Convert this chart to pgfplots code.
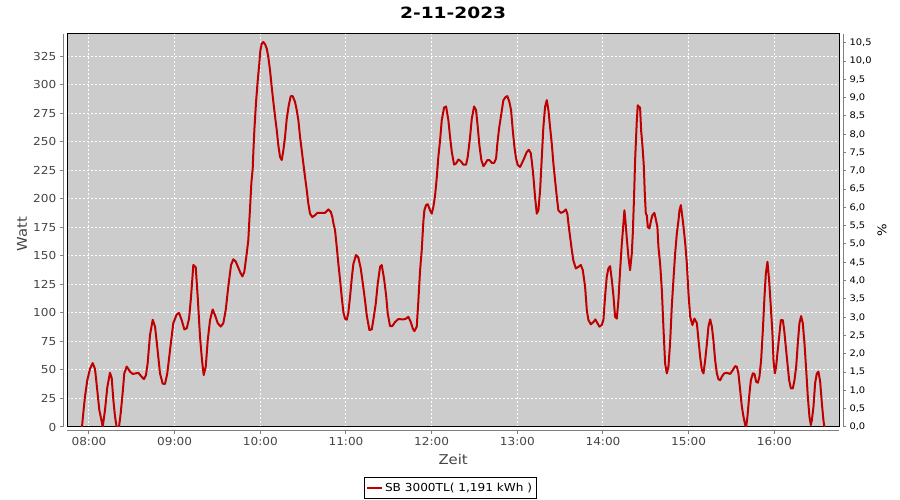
\documentclass[border=0pt]{standalone}
\usepackage{pgfplots}
\pgfplotsset{compat=1.18}
\usepackage{pgfplotstable}
\usepackage{fontspec}
\setmainfont{DejaVu Sans}
\newfontfamily\widefont[FakeStretch=1.1]{DejaVu Sans}
\newfontfamily\titlefont[FakeStretch=1.2]{DejaVu Sans}
\definecolor{plotbg}{RGB}{204,204,204}
\definecolor{serie}{RGB}{192,0,0}
\definecolor{ticktxt}{RGB}{68,68,68}
\definecolor{axgray}{RGB}{128,128,128}

\pgfplotstableread{
h w
7.918 0
7.933 12
7.953 26.5
7.980 41
8.012 51
8.043 56
8.070 51
8.097 32
8.120 15
8.148 5
8.160 0
8.187 15
8.214 35
8.245 47.5
8.265 43
8.284 24
8.304 9
8.323 0
8.350 0
8.370 12
8.393 30
8.412 47
8.440 53
8.479 48.5
8.510 46.5
8.576 47.5
8.615 44
8.642 42
8.665 45.5
8.685 56
8.712 80.6
8.744 94
8.771 88
8.797 70
8.829 47
8.860 38
8.887 37.7
8.914 47
8.946 67.5
8.984 91
9.024 98.7
9.051 100
9.082 93.7
9.113 85.6
9.141 86.5
9.168 95
9.191 114
9.218 142
9.246 140
9.269 114
9.296 79
9.319 58.7
9.339 45.5
9.363 53
9.386 76
9.413 93.7
9.444 103
9.471 98
9.503 91
9.538 88
9.568 91
9.596 102.5
9.626 123
9.658 142
9.685 147
9.713 145
9.763 136
9.790 132
9.813 136
9.841 152
9.860 164
9.868 176
9.880 192
9.895 213.5
9.911 226.6
9.918 240
9.930 260
9.950 285
9.970 304
9.988 318.6
10.000 330
10.016 336
10.035 337.5
10.055 335.5
10.075 331.7
10.093 324.4
10.113 312.7
10.133 298
10.152 285
10.172 272
10.192 260
10.210 247
10.230 236.8
10.250 234
10.269 242.7
10.288 254
10.308 270
10.332 282
10.355 290
10.378 290
10.405 285
10.425 277.7
10.444 269
10.464 254
10.483 242.7
10.502 231
10.522 219
10.542 207.6
10.560 196
10.580 187
10.607 184
10.639 185.7
10.666 187.7
10.755 187.7
10.794 190.7
10.822 188.6
10.841 184
10.852 179
10.872 172.6
10.892 158
10.911 143
10.931 128.8
10.950 114
10.969 101
10.989 95
11.009 94
11.027 100
11.047 114
11.067 130
11.086 143
11.117 150.7
11.144 148.6
11.172 139
11.196 126
11.222 111
11.242 98
11.273 85
11.301 85.6
11.319 93.7
11.347 108
11.371 126
11.398 140.4
11.417 142
11.444 130
11.468 115.6
11.487 99.6
11.514 88.5
11.541 88.5
11.573 92
11.611 94.6
11.670 94.3
11.701 95
11.728 96.6
11.756 92
11.779 86.5
11.798 84
11.826 88
11.845 111
11.865 137.5
11.884 155
11.903 180
11.915 190
11.935 194.5
11.954 195.3
11.981 190
12.001 187
12.020 193
12.040 203
12.060 219
12.078 236.8
12.098 251
12.118 269
12.145 280
12.168 281
12.195 269
12.215 254
12.235 241
12.262 230
12.285 231
12.312 234.5
12.340 233
12.370 230
12.402 230
12.421 236.8
12.448 254
12.468 270
12.495 281
12.518 277.7
12.538 263
12.557 247
12.580 234
12.604 228.6
12.627 231
12.650 234
12.674 234
12.702 231.5
12.729 231.5
12.752 235.4
12.767 248.5
12.787 261.7
12.810 273
12.837 286.5
12.865 289.4
12.884 290
12.907 285
12.927 277.7
12.947 260
12.966 245.5
12.985 235.4
13.005 229.5
13.032 228
13.052 231
13.079 235.4
13.110 241
13.134 243
13.157 240
13.172 231
13.188 219
13.207 201.7
13.227 187
13.246 190
13.266 207.6
13.286 236.8
13.304 263
13.324 280.6
13.344 286.5
13.363 277.7
13.382 263
13.402 248.5
13.421 231
13.441 216
13.461 201.7
13.479 190
13.507 187.7
13.538 188.6
13.566 190.7
13.584 187
13.601 175.4
13.616 166.7
13.636 155
13.654 146
13.683 139
13.713 140.4
13.741 142
13.764 137.5
13.791 123
13.811 102.5
13.830 93.7
13.858 90
13.888 92
13.911 94.3
13.935 91
13.958 88
13.986 89.4
14.005 94
14.025 115
14.044 131.7
14.063 139
14.083 141
14.103 128.8
14.122 115
14.141 96.6
14.161 95
14.180 111
14.200 137.5
14.219 160
14.238 178
14.250 190
14.265 178
14.278 165
14.297 149
14.316 137.5
14.336 152
14.348 170
14.363 203
14.375 234
14.394 267.5
14.406 282
14.421 280.6
14.433 280
14.445 260
14.460 247
14.476 229.5
14.488 204.7
14.500 187
14.511 185.7
14.523 175.4
14.542 174
14.558 180
14.577 185.7
14.600 187.7
14.620 181
14.635 175.4
14.647 158
14.667 143
14.687 120
14.705 88
14.725 55.8
14.745 47
14.764 52.8
14.783 73.3
14.803 105.4
14.822 128.8
14.842 152
14.862 169.7
14.881 181
14.893 190
14.909 194.5
14.924 185.7
14.940 175.4
14.960 161
14.979 143
14.998 117
15.018 96.6
15.044 89.4
15.068 95
15.096 91
15.115 76
15.134 61.6
15.154 50
15.173 47
15.193 58.7
15.213 73.3
15.231 88
15.251 94.3
15.271 88
15.289 76
15.309 58.7
15.329 47
15.348 41.8
15.368 41
15.387 44
15.414 47
15.446 47.5
15.484 46.5
15.516 50
15.543 53.4
15.562 52.8
15.581 47
15.601 32.4
15.621 17.8
15.640 9
15.660 1.7
15.671 0
15.686 9
15.706 26.5
15.726 41
15.749 47
15.768 46.5
15.788 39.7
15.808 38.8
15.826 44
15.846 58.7
15.866 85
15.885 114
15.901 134.6
15.920 144.8
15.939 128.8
15.959 105.4
15.978 82
15.990 58.7
16.006 47
16.021 52.8
16.036 64.6
16.056 79
16.076 93.7
16.099 93.7
16.115 85
16.134 70.3
16.153 55.8
16.173 41
16.193 33.9
16.216 33.9
16.235 41
16.255 52.8
16.274 73.3
16.293 91
16.313 97.2
16.332 91
16.352 73.3
16.372 50
16.391 26.5
16.410 9
16.426 1.7
16.438 6
16.457 17.8
16.476 38.3
16.496 47
16.515 48.5
16.535 39.7
16.555 20.8
16.573 6
16.585 0
}\datatable

\begin{document}
\begin{tikzpicture}
\begin{axis}[
  name=main,
  at={(67.3pt,73pt)}, anchor=south west,
  scale only axis, width=771.7pt, height=393pt,
  xmin=7.7467, xmax=16.755, ymin=0, ymax=344.5,
  axis background/.style={fill=plotbg},
  axis line style={black, line width=1pt},
  grid=major,
  grid style={white, line width=1pt, dash pattern=on 2pt off 2pt},
  xtick={8,9,10,11,12,13,14,15,16},
  xticklabels={08:00,09:00,10:00,11:00,12:00,13:00,14:00,15:00,16:00},
  ytick={0,25,...,325},
  tick pos=left,
  tick align=outside,
  major tick length=3.5pt,
  xtick style={axgray, line width=1pt, yshift=-3.5pt},
  ytick style={axgray, line width=1pt, xshift=-4pt},
  /pgf/number format/assume math mode=true,
  ticklabel style={font=\widefont\fontsize{11}{13}\selectfont, text=ticktxt},
  yticklabel style={anchor=east, xshift=-4pt},
  xticklabel style={anchor=base, yshift=-15.5pt},
  title={\titlefont\bfseries 2-11-2023},
  title style={at={(0.5,1)}, anchor=base, yshift=9.7pt, font=\fontsize{15.5}{17}\selectfont},
  xlabel={Zeit},
  xlabel style={at={(0.5,0)}, anchor=base, yshift=-37.3pt, font=\widefont\fontsize{13.5}{15}\selectfont, text=ticktxt},
  ylabel={Watt},
  ylabel style={at={(-0.0587,0.49)}, anchor=center, font=\widefont\fontsize{13.5}{15}\selectfont, text=ticktxt},
  legend style={at={(0.496,0)}, anchor=north, yshift=-50pt, draw=black, line width=1pt, fill=white,
     font=\widefont\fontsize{11}{13}\selectfont, inner xsep=2pt, inner ysep=3.5pt},
  legend image code/.code={\draw[#1] (0pt,0pt) -- (15pt,0pt);},
]
\addplot[serie, line width=2pt, line join=round] table[x=h, y=w] {\datatable};
\addlegendentry{SB 3000TL( 1,191 kWh )}
\end{axis}
\begin{axis}[
  at={(67.3pt,73pt)}, anchor=south west,
  scale only axis, width=771.7pt, height=393pt,
  xmin=7.7467, xmax=16.755, ymin=0, ymax=10.738,
  axis x line=none,
  axis y line*=right,
  y axis line style={draw=none},
  ytick={0,0.5,1,1.5,2,2.5,3,3.5,4,4.5,5,5.5,6,6.5,7,7.5,8,8.5,9,9.5,10,10.5},
  tick align=outside,
  major tick length=3pt,
  ytick style={axgray, line width=1pt, xshift=4pt},
  yticklabel={\pgfmathprintnumber[fixed, fixed zerofill, precision=1, use comma, assume math mode=true]{\tick}},
  yticklabel style={font=\widefont\fontsize{9}{11}\selectfont, text=black, anchor=west, xshift=4pt},
  ylabel={\%},
  ylabel style={at={(1.0557,0.5)}, anchor=center, font=\widefont\fontsize{12}{14}\selectfont, text=black},
]
\addplot[draw=none] coordinates {(8,0) (9,1)};
\end{axis}
\draw[axgray, line width=1pt] ([xshift=-4pt]main.south west) -- ([xshift=-4pt]main.north west);
\draw[axgray, line width=1pt] ([yshift=-3.5pt]main.south west) -- ([yshift=-3.5pt]main.south east);
\draw[axgray, line width=1pt] ([xshift=4pt]main.south east) -- ([xshift=4pt]main.north east);
\pgfresetboundingbox
\path[use as bounding box] (0pt,0pt) rectangle (900pt,500pt);
\end{tikzpicture}
\end{document}
